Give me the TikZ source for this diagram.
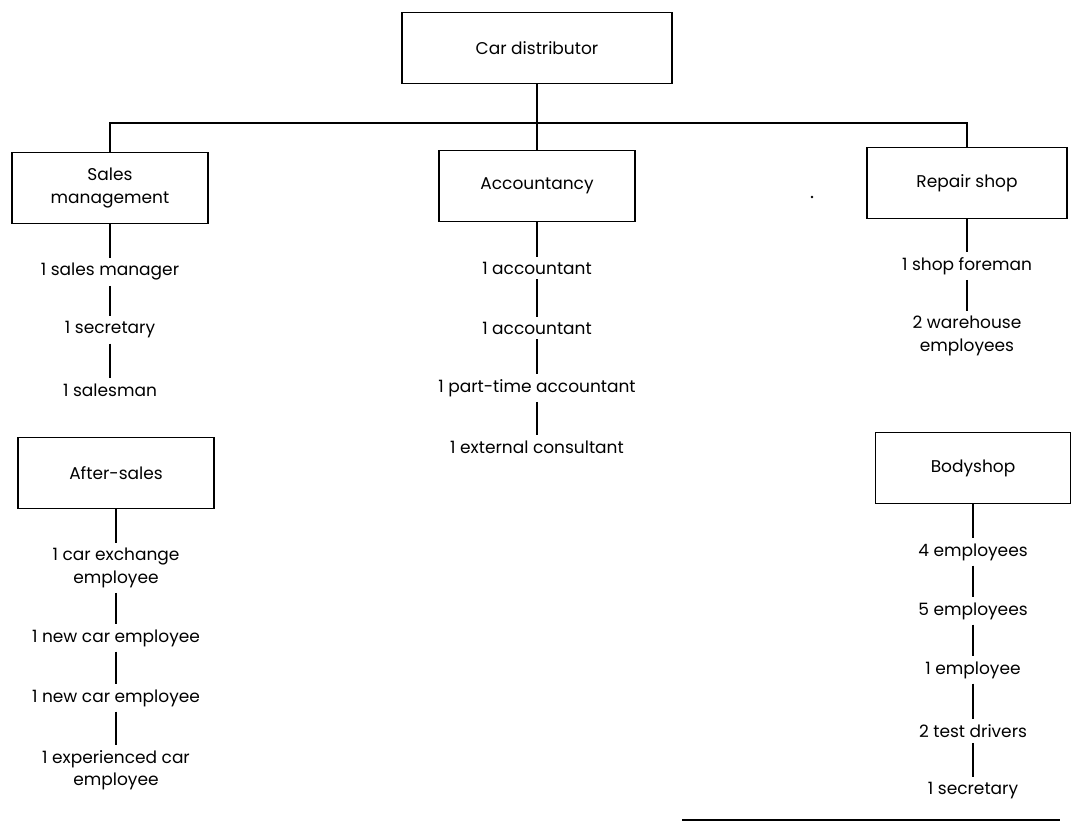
\documentclass[tikz,border=0pt]{standalone}
\usepackage{fontspec}
\setmainfont{Poppins}
\usetikzlibrary{positioning}

\begin{document}
\begin{tikzpicture}[x=1pt, y=-1pt]
\tikzset{
  unit/.style ={draw, line width=1.1pt, align=center, minimum width=196pt,
                minimum height=71pt, inner sep=2pt, font=\fontsize{17}{22.5}\selectfont},
  staff/.style={align=center, inner xsep=2pt, inner ysep=5pt,
                font=\fontsize{17}{22.5}\selectfont},
  link/.style ={line width=1.1pt}
}
\useasboundingbox (0,0) rectangle (1073,822);
% departments
\node (cd)[unit, minimum width=270pt] at (537,48) {Car distributor};
\node (sales)[unit] at (110,188) {Sales\\management};
\node (acc)[unit] at (537,186) {Accountancy};
\node (rep)[unit, minimum width=200pt] at (967,183) {Repair shop};
\node (after)[unit] at (116,473) {After-sales};
\node (body)[unit, minimum width=195pt] at (973,468) {Bodyshop};
% staff
\node (s1)[staff] at (110,272) {1 sales manager};
\node (s2)[staff] at (110,330) {1 secretary};
\node (s3)[staff] at (110,390) {1 salesman};
\node (a1)[staff] at (537,268) {1 accountant};
\node (a2)[staff] at (537,328) {1 accountant};
\node (a3)[staff] at (537,388) {1 part-time accountant};
\node (a4)[staff] at (537,447) {1 external consultant};
\node (r1)[staff] at (967,266) {1 shop foreman};
\node (r2)[staff] at (967,336) {2 warehouse\\employees};
\node (f1)[staff] at (116,568) {1 car exchange\\employee};
\node (f2)[staff] at (116,638) {1 new car employee};
\node (f3)[staff] at (116,698) {1 new car employee};
\node (f4)[staff] at (116,770) {1 experienced car\\employee};
\node (b1)[staff] at (973,552) {4 employees};
\node (b2)[staff] at (973,611) {5 employees};
\node (b3)[staff] at (973,670) {1 employee};
\node (b4)[staff] at (973,731) {2 test drivers};
\node (b5)[staff] at (973,791) {1 secretary};
\node (speck)[circle, fill, inner sep=1pt] at (812,197) {};
\coordinate (bus) at (537,123);
\coordinate (ruleL) at (682,820);
\coordinate (ruleR) at (1060,820);
% lines
\draw[link] (cd.south) -- (acc.north);
\draw[link] (sales.north) |- (bus) -| (rep.north);
\draw[link] (sales) -- (s1) -- (s2) -- (s3);
\draw[link] (acc) -- (a1) -- (a2) -- (a3) -- (a4);
\draw[link] (rep) -- (r1) -- (r2);
\draw[link] (after) -- (f1) -- (f2) -- (f3) -- (f4);
\draw[link] (body) -- (b1) -- (b2) -- (b3) -- (b4) -- (b5);
\draw[link] (ruleL) -- (ruleR);
\end{tikzpicture}
\end{document}
